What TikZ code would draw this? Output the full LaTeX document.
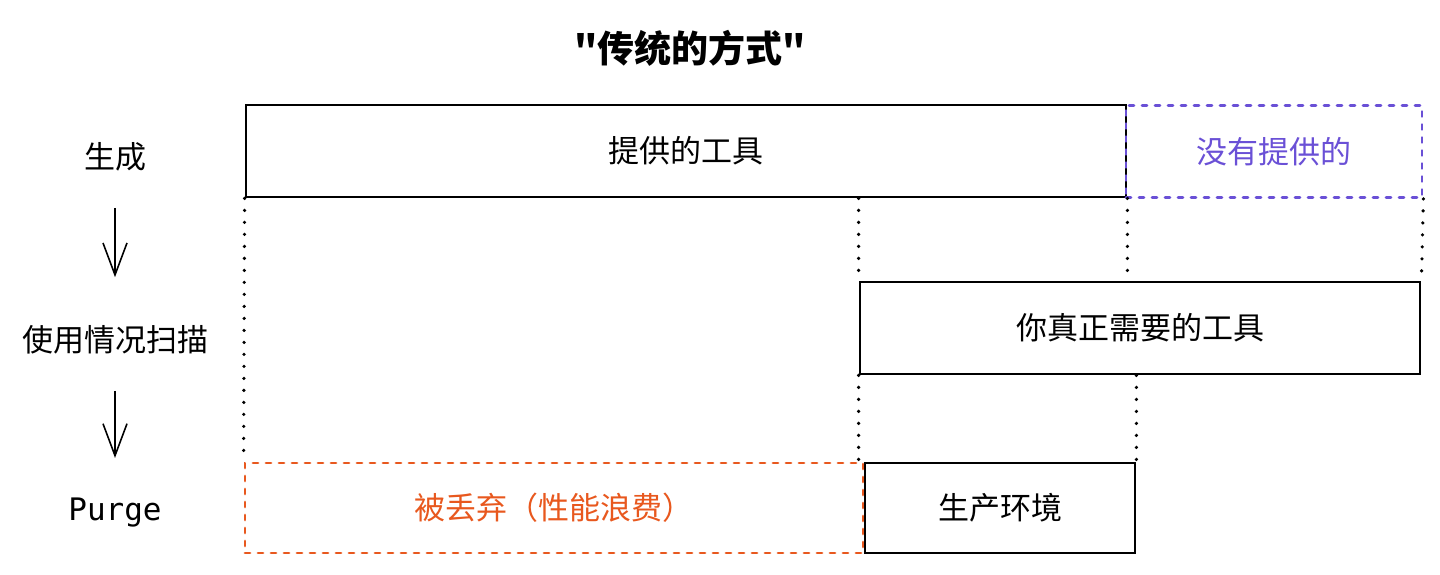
\documentclass[tikz,border=0pt]{standalone}
\usepackage{fontspec}
\setmainfont{Noto Sans CJK SC}
\setmonofont{DejaVu Sans Mono}
\newfontfamily\titlefont{Noto Sans CJK SC}
\usetikzlibrary{arrows.meta}
\definecolor{mypurple}{RGB}{106,80,214}
\definecolor{myorange}{RGB}{232,88,30}
\begin{document}
\begin{tikzpicture}[x=0.5pt,y=-0.5pt,
    box/.style={draw,line width=1.4pt,inner sep=0pt,minimum height=46pt},
    lbl/.style={inner sep=0pt},
    guide/.style={line width=1.8pt,line cap=round,dash pattern=on 0pt off 6pt},
    arr/.style={line width=0.8pt,-{Straight Barb[length=16pt,width=12pt,line width=0.8pt]}},
    font=\fontsize{15.5}{18}\selectfont]
        \useasboundingbox (0,0) rectangle (1440,574);
        \node[lbl,font=\fontsize{18.5}{22}\titlefont\bfseries] (title) at (690,48) {"传统的方式"};
        % stages
        \node[lbl] (gen) at (115,157) {生成};
        \node[lbl] (scan) at (115,340) {使用情况扫描};
        \node[lbl,font=\fontsize{15.5}{18}\ttfamily] (purge) at (115,513) {Purge};
        \draw[arr,shorten <=18pt,shorten >=24pt] (gen.south) -- (scan.north);
        \draw[arr,shorten <=18pt,shorten >=20pt] (scan.south) -- (purge.north);
        % boxes
        \node[box,minimum width=440pt] (provided) at (686,151) {提供的工具};
        \node[box,draw=mypurple,text=mypurple,guide,dash pattern=on 2.5pt off 4pt,line width=1.4pt,minimum width=148pt] (missing) at (1274,151.5) {没有提供的};
        \node[box,minimum width=280pt] (needed) at (1140,328) {你真正需要的工具};
        \node[box,draw=myorange,text=myorange,guide,dash pattern=on 2.5pt off 4pt,line width=1.4pt,minimum width=309pt,minimum height=45pt] (waste) at (554,508) {被丢弃（性能浪费）};
        \node[box,minimum width=135pt,minimum height=45pt] (prod) at (1000,508) {生产环境};
        % guides
        \draw[guide] (provided.south west) -- (waste.north west);
        \draw[guide] (needed.north west |- provided.south) -- (needed.north west);
        \draw[guide] (needed.south west) -- (needed.south west |- prod.north);
        \draw[guide] (provided.south east) -- (provided.south east |- needed.north);
        \draw[guide] (prod.north east |- needed.south) -- (prod.north east);
        \draw[guide] (missing.south east) -- (needed.north east);
    \end{tikzpicture}
\end{document}
